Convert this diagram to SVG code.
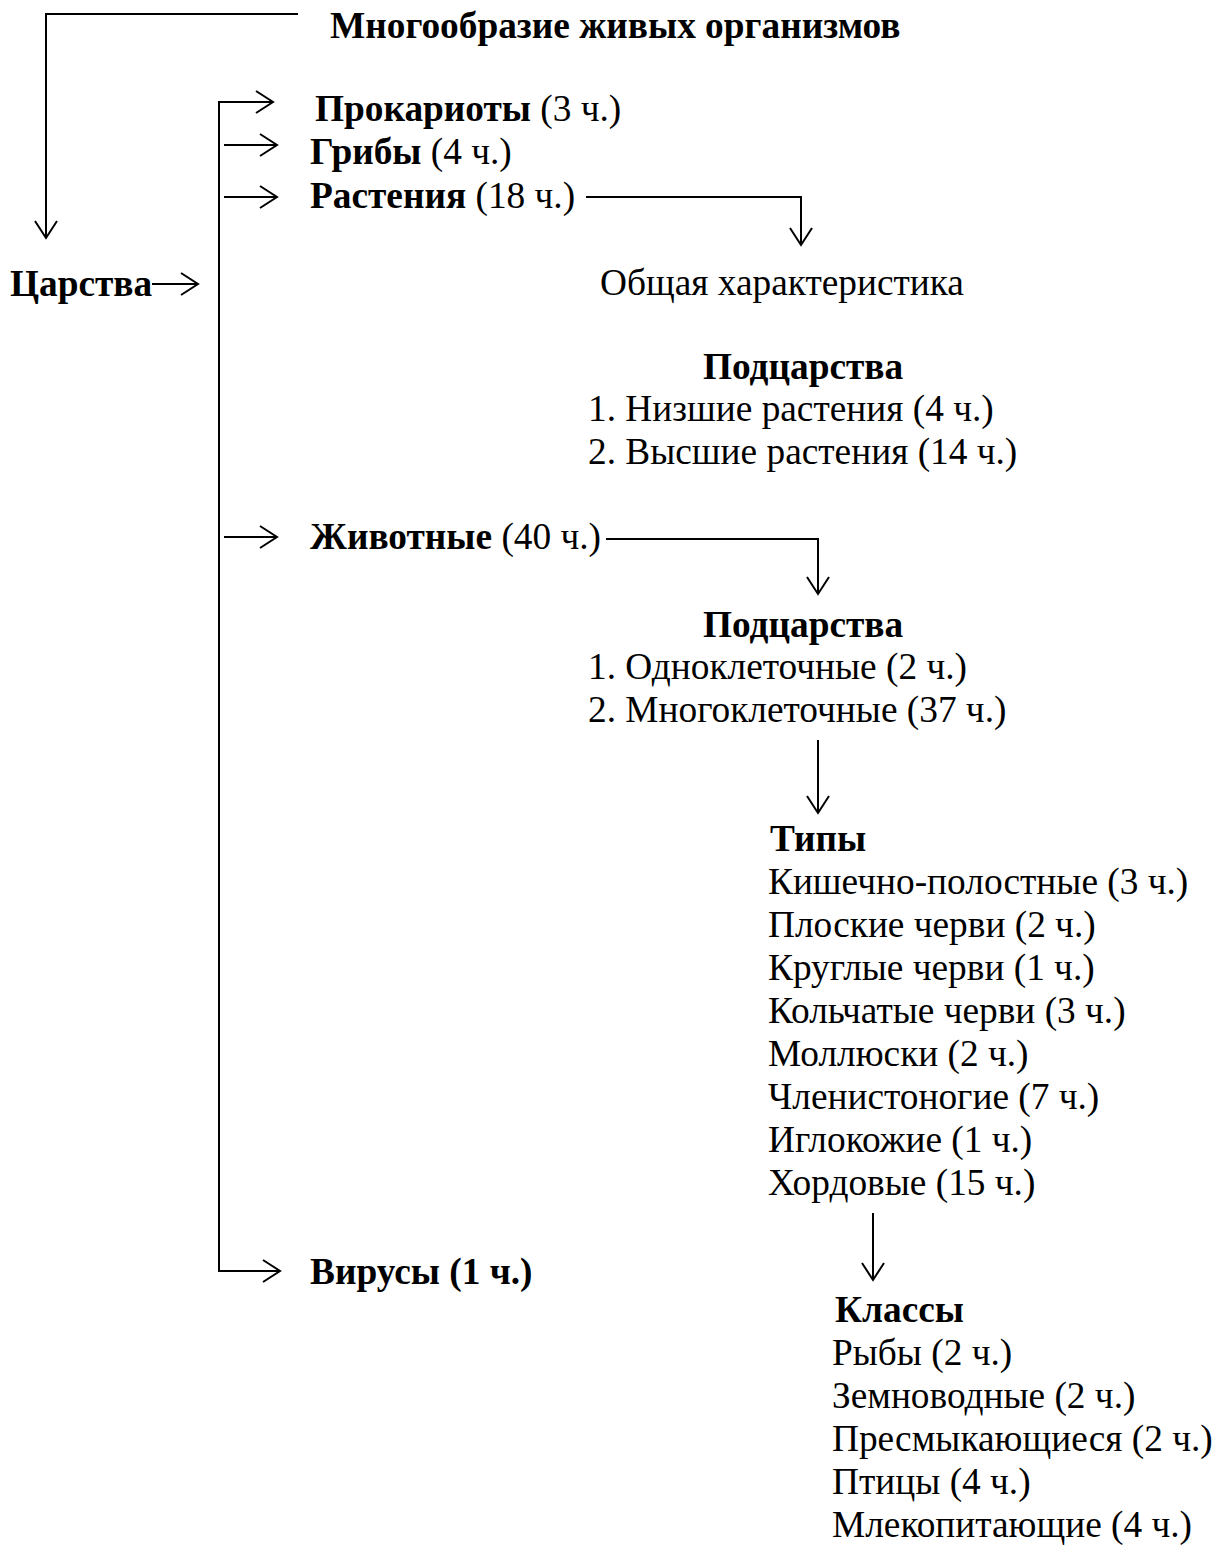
<svg xmlns="http://www.w3.org/2000/svg" width="1223" height="1545" viewBox="0 0 1223 1545">
<style>
text{font-family:"Liberation Serif","Times New Roman",serif;font-size:37.33px;fill:#000}
.b{font-weight:bold}
.c{fill:none;stroke:#000;stroke-width:2}
</style>
<defs>
<marker id="ah" markerWidth="20" markerHeight="24" refX="18" refY="12" orient="auto" markerUnits="userSpaceOnUse">
<path d="M1,1 L18,12 L1,23" fill="none" stroke="#000" stroke-width="2"/>
</marker>
</defs>
<rect width="1223" height="1545" fill="#fff"/>
<g id="connectors">
<path class="c" d="M298,14 H46 V238" marker-end="url(#ah)"/>
<path class="c" d="M152,284 H198" marker-end="url(#ah)"/>
<path class="c" d="M219,1272 V102 H273" marker-end="url(#ah)"/>
<path class="c" d="M224,145 H277" marker-end="url(#ah)"/>
<path class="c" d="M224,197 H277" marker-end="url(#ah)"/>
<path class="c" d="M224,537 H277" marker-end="url(#ah)"/>
<path class="c" d="M219,1271 H280" marker-end="url(#ah)"/>
<path class="c" d="M586,197 H801 V245" marker-end="url(#ah)"/>
<path class="c" d="M606,539 H818 V594" marker-end="url(#ah)"/>
<path class="c" d="M818,740 V813" marker-end="url(#ah)"/>
<path class="c" d="M873,1213 V1280" marker-end="url(#ah)"/>
</g>
<g id="root"><text x="330" y="38" class="b">Многообразие живых организмов</text></g>
<g id="tsarstva"><text x="10" y="296" class="b">Царства</text></g>
<g id="prokarioty"><text x="315" y="121"><tspan class="b">Прокариоты</tspan> (3 ч.)</text></g>
<g id="griby"><text x="310" y="164"><tspan class="b">Грибы</tspan> (4 ч.)</text></g>
<g id="rasteniya"><text x="310" y="208"><tspan class="b">Растения</tspan> (18 ч.)</text></g>
<g id="obshchaya"><text x="600" y="295">Общая характеристика</text></g>
<g id="podtsarstva1">
<text x="703" y="379" class="b">Подцарства</text>
<text x="588" y="421">1. Низшие растения (4 ч.)</text>
<text x="588" y="464">2. Высшие растения (14 ч.)</text>
</g>
<g id="zhivotnye"><text x="310" y="549"><tspan class="b">Животные</tspan> (40 ч.)</text></g>
<g id="podtsarstva2">
<text x="703" y="637" class="b">Подцарства</text>
<text x="588" y="679">1. Одноклеточные (2 ч.)</text>
<text x="588" y="722">2. Многоклеточные (37 ч.)</text>
</g>
<g id="tipy">
<text x="770" y="851" class="b">Типы</text>
<text x="768" y="894">Кишечно-полостные (3 ч.)</text>
<text x="768" y="937">Плоские черви (2 ч.)</text>
<text x="768" y="980">Круглые черви (1 ч.)</text>
<text x="768" y="1023">Кольчатые черви (3 ч.)</text>
<text x="768" y="1066">Моллюски (2 ч.)</text>
<text x="768" y="1109">Членистоногие (7 ч.)</text>
<text x="768" y="1152">Иглокожие (1 ч.)</text>
<text x="768" y="1195">Хордовые (15 ч.)</text>
</g>
<g id="virusy"><text x="310" y="1284" class="b">Вирусы (1 ч.)</text></g>
<g id="klassy">
<text x="835" y="1322" class="b">Классы</text>
<text x="832" y="1365">Рыбы (2 ч.)</text>
<text x="832" y="1408">Земноводные (2 ч.)</text>
<text x="832" y="1451">Пресмыкающиеся (2 ч.)</text>
<text x="832" y="1494">Птицы (4 ч.)</text>
<text x="832" y="1537">Млекопитающие (4 ч.)</text>
</g>
</svg>
